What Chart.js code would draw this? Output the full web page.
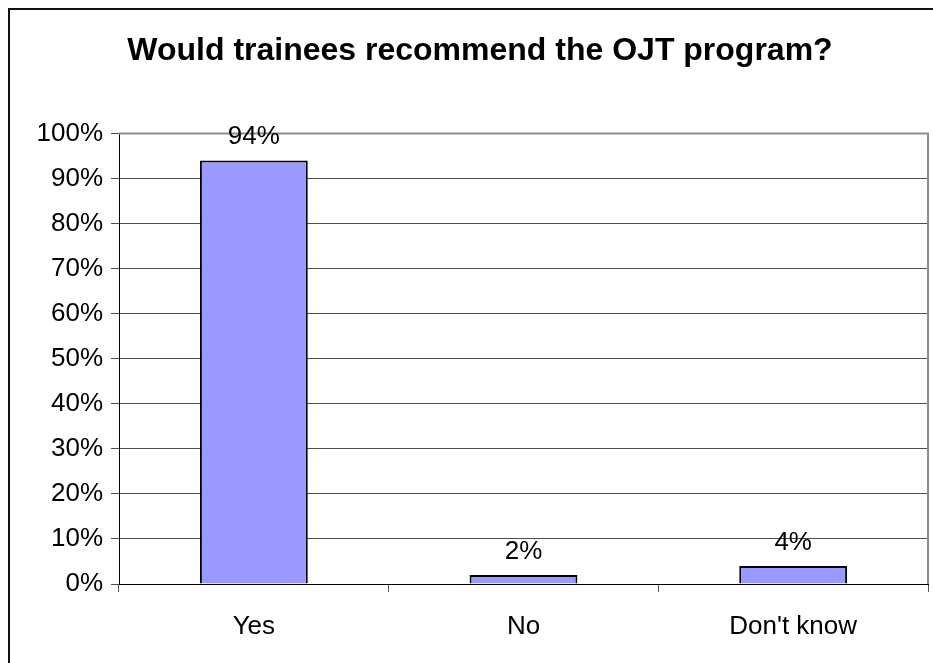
<!DOCTYPE html>
<html>
<head>
<meta charset="utf-8">
<script src="https://cdn.jsdelivr.net/npm/chart.js@4.4.1/dist/chart.umd.min.js"></script>
<style>
  html, body { margin: 0; padding: 0; background: #fff; overflow: hidden; }
  #wrap { position: relative; width: 933px; height: 663px; overflow: hidden; }
  #myChart { position: absolute; left: 0; top: 0; }
  #frame { position: absolute; left: 8px; top: 8px; width: 1000px; height: 1000px;
           border: 2px solid #111; pointer-events: none; }
</style>
</head>
<body>
<div id="wrap">
  <canvas id="myChart" width="960" height="663"></canvas>
  <div id="frame"></div>
</div>
<script>
var titleText = 'Would trainees recommend the OJT program?';
var categories = ['Yes', 'No', "Don't know"];
var percentages = [94, 2, 4];
var yTicks = [0, 10, 20, 30, 40, 50, 60, 70, 80, 90, 100];

var fontFamily = '"Liberation Sans", Arial, sans-serif';

// value labels above each bar
var barLabels = {
  id: 'barLabels',
  afterDatasetsDraw: function(chart) {
    var ctx = chart.ctx;
    var meta = chart.getDatasetMeta(0);
    ctx.save();
    ctx.font = '26px ' + fontFamily;
    ctx.fillStyle = '#000';
    ctx.textAlign = 'center';
    ctx.textBaseline = 'alphabetic';
    meta.data.forEach(function(bar, i) {
      ctx.fillText(percentages[i] + '%', bar.x, bar.y - 16);
    });
    ctx.restore();
  }
};

// grey top / right edge of the plot area
var plotEdge = {
  id: 'plotEdge',
  beforeDatasetsDraw: function(chart) {
    var a = chart.chartArea;
    var ctx = chart.ctx;
    ctx.save();
    ctx.strokeStyle = '#8c8c8c';
    ctx.lineWidth = 2;
    ctx.beginPath();
    ctx.moveTo(a.left, a.top);
    ctx.lineTo(a.right, a.top);
    ctx.lineTo(a.right, a.bottom);
    ctx.stroke();
    ctx.restore();
  }
};

var ctx = document.getElementById('myChart');
var myChart = new Chart(ctx, {
  type: 'bar',
  data: {
    labels: categories,
    datasets: [{
      data: percentages,
      backgroundColor: '#9999ff',
      borderColor: '#000',
      borderWidth: 2,
      barPercentage: 0.4,
      categoryPercentage: 1.0
    }]
  },
  options: {
    responsive: false,
    animation: false,
    layout: { padding: 0 },
    plugins: {
      legend: { display: false },
      tooltip: { enabled: false },
      title: {
        display: true,
        text: titleText,
        color: '#000',
        font: { family: fontFamily, size: 32, weight: 'bold', lineHeight: 1.2 },
        padding: { top: 32, bottom: 63 }
      }
    },
    scales: {
      x: {
        grid: { drawOnChartArea: false, color: '#555', tickLength: 8, offset: true },
        border: { color: '#000', width: 1 },
        ticks: { color: '#000', font: { family: fontFamily, size: 26 }, padding: 19 },
        afterFit: function(scale) { scale.height = 79; }
      },
      y: {
        min: 0,
        max: 100,
        afterBuildTicks: function(scale) {
          scale.ticks = yTicks.map(function(v) { return { value: v }; });
        },
        grid: { color: '#4d4d4d', lineWidth: 1, tickLength: 8 },
        border: { color: '#000', width: 1 },
        ticks: {
          color: '#000',
          font: { family: fontFamily, size: 26 },
          padding: 8,
          callback: function(v) { return v + '%'; }
        },
        afterFit: function(scale) { scale.width = 119; }
      },
      // empty right-hand spacer so the plot ends where the reference does
      yRight: {
        position: 'right',
        min: 0,
        max: 100,
        grid: { display: false },
        border: { display: false },
        ticks: { display: false },
        afterFit: function(scale) { scale.width = 32; }
      }
    }
  },
  plugins: [plotEdge, barLabels]
});
</script>
</body>
</html>
